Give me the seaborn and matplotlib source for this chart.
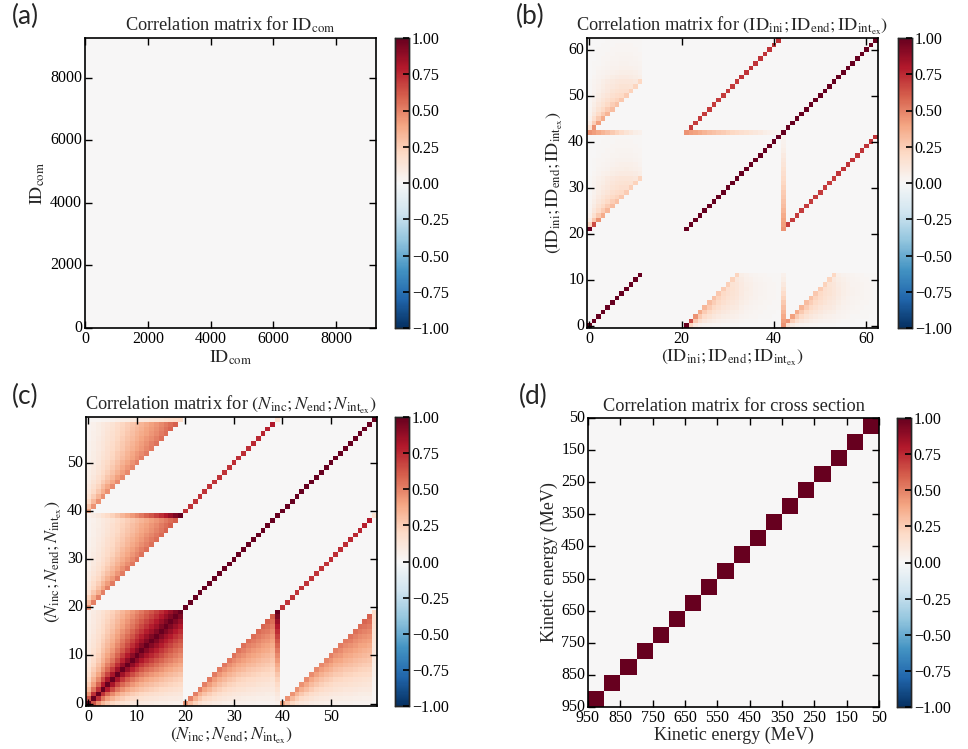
import numpy as np
import matplotlib
matplotlib.use("Agg")
import matplotlib.pyplot as plt
import seaborn as sns
from matplotlib.ticker import FuncFormatter

# ---------------- data ----------------
# (a) ID_com : no visible correlation
id_com_max = 9270
id_com_ticks = [0, 2000, 4000, 6000, 8000]
id_com_nbins = 90

# (b) (ID_ini; ID_end; ID_int_ex), 21 bins per variable
b_nbin = 21
b_ini_filled = 12          # ini bins 0..11 have entries
b_norm = [1, 3, 5, 7, 9, 11, 13, 15, 17, 19, 21, 23, 25, 27, 29, 31, 33, 35, 37, 39, 41]
b_ini_weight = [1.0, 1.0, 1.0, 1.0, 1.0, 1.0, 0.95, 0.9, 0.8, 0.7, 0.55, 0.4]
b_end_ini_edge = [1.0, 0.65, 0.45, 0.37, 0.33, 0.31, 0.29, 0.27, 0.25, 0.24, 0.23, 0.22,
                  0.17, 0.14, 0.12, 0.1, 0.08, 0.07, 0.06, 0.05, 0.04]
b_iex_ini_edge = [0.45, 0.45, 0.41, 0.37, 0.34, 0.31, 0.29, 0.27, 0.25, 0.23, 0.22, 0.21,
                  0.16, 0.13, 0.11, 0.09, 0.08, 0.07, 0.06, 0.05, 0.04]
b_iex0_ini = [0.45, 0.42, 0.38, 0.34, 0.3, 0.26, 0.22, 0.18, 0.14, 0.1, 0.07, 0.05]
b_iex0_end = [0.45, 0.42, 0.4, 0.37, 0.34, 0.31, 0.29, 0.27, 0.25, 0.23, 0.21, 0.19,
              0.17, 0.15, 0.13, 0.11, 0.09, 0.07, 0.05, 0.04, 0.03]
b_end_iex_diag = [0.45, 0.7, 0.7, 0.7, 0.7, 0.7, 0.7, 0.7, 0.7, 0.7, 0.7, 0.7,
                  0.72, 0.72, 0.72, 0.72, 0.72, 0.72, 0.72, 0.72, 0.72]
b_ticks_x = [0, 20, 40, 60]
b_ticks_y = [0, 10, 20, 30, 40, 50, 60]

# (c) (N_inc; N_end; N_int_ex), 20 bins per variable
c_nbin = 20
c_inc_level = [0.05, 0.08, 0.11, 0.15, 0.19, 0.23, 0.28, 0.33, 0.38, 0.43,
               0.48, 0.53, 0.58, 0.63, 0.68, 0.74, 0.8, 0.86, 0.93, 1.0]
c_end_inc_edge = [0.45, 0.5, 0.5, 0.5, 0.5, 0.52, 0.52, 0.52, 0.53, 0.53,
                  0.54, 0.54, 0.55, 0.55, 0.56, 0.57, 0.58, 0.6, 0.6, 1.0]
c_iex_inc_edge = [0.4, 0.45, 0.45, 0.46, 0.46, 0.47, 0.47, 0.48, 0.48, 0.49,
                  0.5, 0.5, 0.52, 0.52, 0.54, 0.55, 0.56, 0.58, 0.6, 0.2]
c_end_iex_diag = [0.72, 0.72, 0.72, 0.72, 0.72, 0.72, 0.72, 0.72, 0.72, 0.72,
                  0.74, 0.74, 0.74, 0.74, 0.75, 0.75, 0.76, 0.78, 0.8, 0.15]
c_ticks = [0, 10, 20, 30, 40, 50]

# (d) cross section, kinetic energy bin edges (MeV)
ke_edges = [50, 100, 150, 200, 250, 300, 350, 400, 450, 500,
            550, 600, 650, 700, 750, 800, 850, 900, 950]
ke_labels = [50, 150, 250, 350, 450, 550, 650, 750, 850, 950]

cbar_ticks = [-1.0, -0.75, -0.5, -0.25, 0.0, 0.25, 0.5, 0.75, 1.0]


def triangle(edge, norm, n_rows, n_cols, col_weight=None):
    out = np.zeros((n_rows, n_cols))
    for k in range(n_rows):
        for i in range(min(k + 1, n_cols)):
            w = 1.0 if col_weight is None or k == i else col_weight[i]
            out[k, i] = edge[k] * norm[i] / norm[k] * w
    return out


def symmetrize(m):
    low = np.tril(m, -1)
    return low + low.T + np.diag(np.diag(m))


# build (b)
n = b_nbin
nf = b_ini_filled
mb = np.zeros((3 * n, 3 * n))
ini, end, iex = slice(0, n), slice(n, 2 * n), slice(2 * n, 3 * n)
mb[ini, ini] = np.diag([1.0] * nf + [0.0] * (n - nf))
mb[end, end] = np.eye(n)
mb[iex, iex] = np.eye(n)
mb[n:2 * n, 0:nf] = triangle(b_end_ini_edge, b_norm, n, nf, b_ini_weight)
mb[2 * n:, 0:nf] = triangle(b_iex_ini_edge, b_norm, n, nf, b_ini_weight)
mb[2 * n, 0:nf] = b_iex0_ini
mb[iex, end] = np.diag(b_end_iex_diag)
mb[2 * n, n:2 * n] = b_iex0_end
mb = symmetrize(mb)

# build (c)
n = c_nbin
mc = np.zeros((3 * n, 3 * n))
lv = np.array(c_inc_level)
mc[0:n, 0:n] = np.minimum.outer(lv, lv) / np.maximum.outer(lv, lv)
mc[n:2 * n, 0:n] = triangle(c_end_inc_edge, c_inc_level, n, n)
mc[2 * n:, 0:n] = triangle(c_iex_inc_edge, c_inc_level, n, n)
mc[n:2 * n, n:2 * n] = np.eye(n)
mc[2 * n:, 2 * n:] = np.eye(n)
mc[2 * n:, n:2 * n] = np.diag(c_end_iex_diag)
mc = symmetrize(mc)

ma = np.zeros((id_com_nbins, id_com_nbins))
md = np.eye(len(ke_edges) - 1)

# ---------------- style ----------------
sns.set_style("ticks")
plt.rcParams["font.family"] = ["Liberation Serif", "DejaVu Serif"]
plt.rcParams["mathtext.fontset"] = "stix"
plt.rcParams["axes.linewidth"] = 1.2

fig = plt.figure(figsize=(9.68, 7.49), dpi=100)
W, H = 968, 749
TITLE_FS = 13.2
LABEL_FS = 13


def box(l, r, t, b):
    return [l / W, 1 - b / H, (r - l) / W, (b - t) / H]


minus_fmt = FuncFormatter(lambda v, p: f"{v:.2f}".replace("-", "\u2212"))


def panel(mat, axbox, caxbox):
    ax = fig.add_axes(axbox)
    cax = fig.add_axes(caxbox)
    sns.heatmap(mat, ax=ax, cbar_ax=cax, cmap="RdBu_r", vmin=-1, vmax=1,
                cbar_kws={"ticks": cbar_ticks, "format": minus_fmt})
    ax.set_axisbelow(False)
    cax.set_axisbelow(False)
    for s in ax.spines.values():
        s.set_visible(True)
        s.set_color("black")
        s.set_linewidth(1.2)
    ax.tick_params(direction="in", top=True, right=True, length=5, width=1,
                   labelsize=11.5, colors="black", pad=2)
    cax.tick_params(direction="in", length=4, width=1.2, labelsize=11.5, pad=2,
                    colors="black")
    cax.yaxis.set_major_formatter(minus_fmt)
    for s in cax.spines.values():
        s.set_visible(True)
        s.set_linewidth(1)
    return ax


def set_index_ticks(ax, nb, xt, yt):
    ax.set_xlim(0, nb)
    ax.set_ylim(0, nb)
    ax.set_xticks([v + 0.5 for v in xt])
    ax.set_xticklabels([str(v) for v in xt], rotation=0)
    ax.set_yticks([v + 0.5 for v in yt])
    ax.set_yticklabels([str(v) for v in yt], rotation=0)


# (a)
ax = panel(ma, box(85, 376, 38, 328), box(395, 409, 38, 328))
ax.set_xlim(0, id_com_nbins)
ax.set_ylim(0, id_com_nbins)
pos = [v / id_com_max * id_com_nbins for v in id_com_ticks]
ax.set_xticks(pos)
ax.set_xticklabels([str(v) for v in id_com_ticks], rotation=0)
ax.set_yticks(pos)
ax.set_yticklabels([str(v) for v in id_com_ticks], rotation=0)
ax.set_title(r"Correlation matrix for $\mathrm{ID}_{\mathrm{com}}$", fontsize=TITLE_FS, pad=5)
ax.set_xlabel(r"$\mathrm{ID}_{\mathrm{com}}$", fontsize=LABEL_FS, labelpad=1)
ax.set_ylabel(r"$\mathrm{ID}_{\mathrm{com}}$", fontsize=LABEL_FS, labelpad=2)

# (b)
lab_b = r"$(\mathrm{ID}_{\mathrm{ini}};\mathrm{ID}_{\mathrm{end}};\mathrm{ID}_{\mathrm{int}_{\mathrm{ex}}})$"
ax = panel(mb, box(587, 878, 38, 328), box(898, 912, 38, 328))
set_index_ticks(ax, 3 * b_nbin, b_ticks_x, b_ticks_y)
ax.set_title("Correlation matrix for " + lab_b, fontsize=TITLE_FS, pad=5)
ax.set_xlabel(lab_b, fontsize=LABEL_FS, labelpad=1)
ax.set_ylabel(lab_b, fontsize=LABEL_FS, labelpad=2)

# (c)
lab_c = r"$(N_{\mathrm{inc}};N_{\mathrm{end}};N_{\mathrm{int}_{\mathrm{ex}}})$"
ax = panel(mc, box(86, 377, 417, 706), box(395, 409, 417, 706))
set_index_ticks(ax, 3 * c_nbin, c_ticks, c_ticks)
ax.set_title("Correlation matrix for " + lab_c, fontsize=TITLE_FS, pad=5)
ax.set_xlabel(lab_c, fontsize=LABEL_FS, labelpad=1)
ax.set_ylabel(lab_c, fontsize=LABEL_FS, labelpad=2)

# (d)
ax = panel(md, box(588, 879, 418, 707), box(897, 911, 418, 707))
nk = len(ke_edges) - 1
ax.set_xlim(nk, 0)
ax.set_ylim(nk, 0)
kpos = [ke_edges.index(v) for v in ke_labels]
ax.set_xticks(kpos)
ax.set_xticklabels([str(v) for v in ke_labels], rotation=0)
ax.set_yticks(kpos)
ax.set_yticklabels([str(v) for v in ke_labels], rotation=0)
ax.set_title("Correlation matrix for cross section", fontsize=TITLE_FS, pad=5)
ax.set_xlabel("Kinetic energy (MeV)", fontsize=LABEL_FS, labelpad=1)
ax.set_ylabel("Kinetic energy (MeV)", fontsize=LABEL_FS, labelpad=2)

for lab, x, y in [("(a)", 12, 4), ("(b)", 516, 4), ("(c)", 12, 384), ("(d)", 519, 384)]:
    fig.text(x / W, 1 - y / H, lab, family=["Lato", "DejaVu Sans"], fontsize=19,
             va="top", ha="left")

fig.savefig("out.png", dpi=100)
